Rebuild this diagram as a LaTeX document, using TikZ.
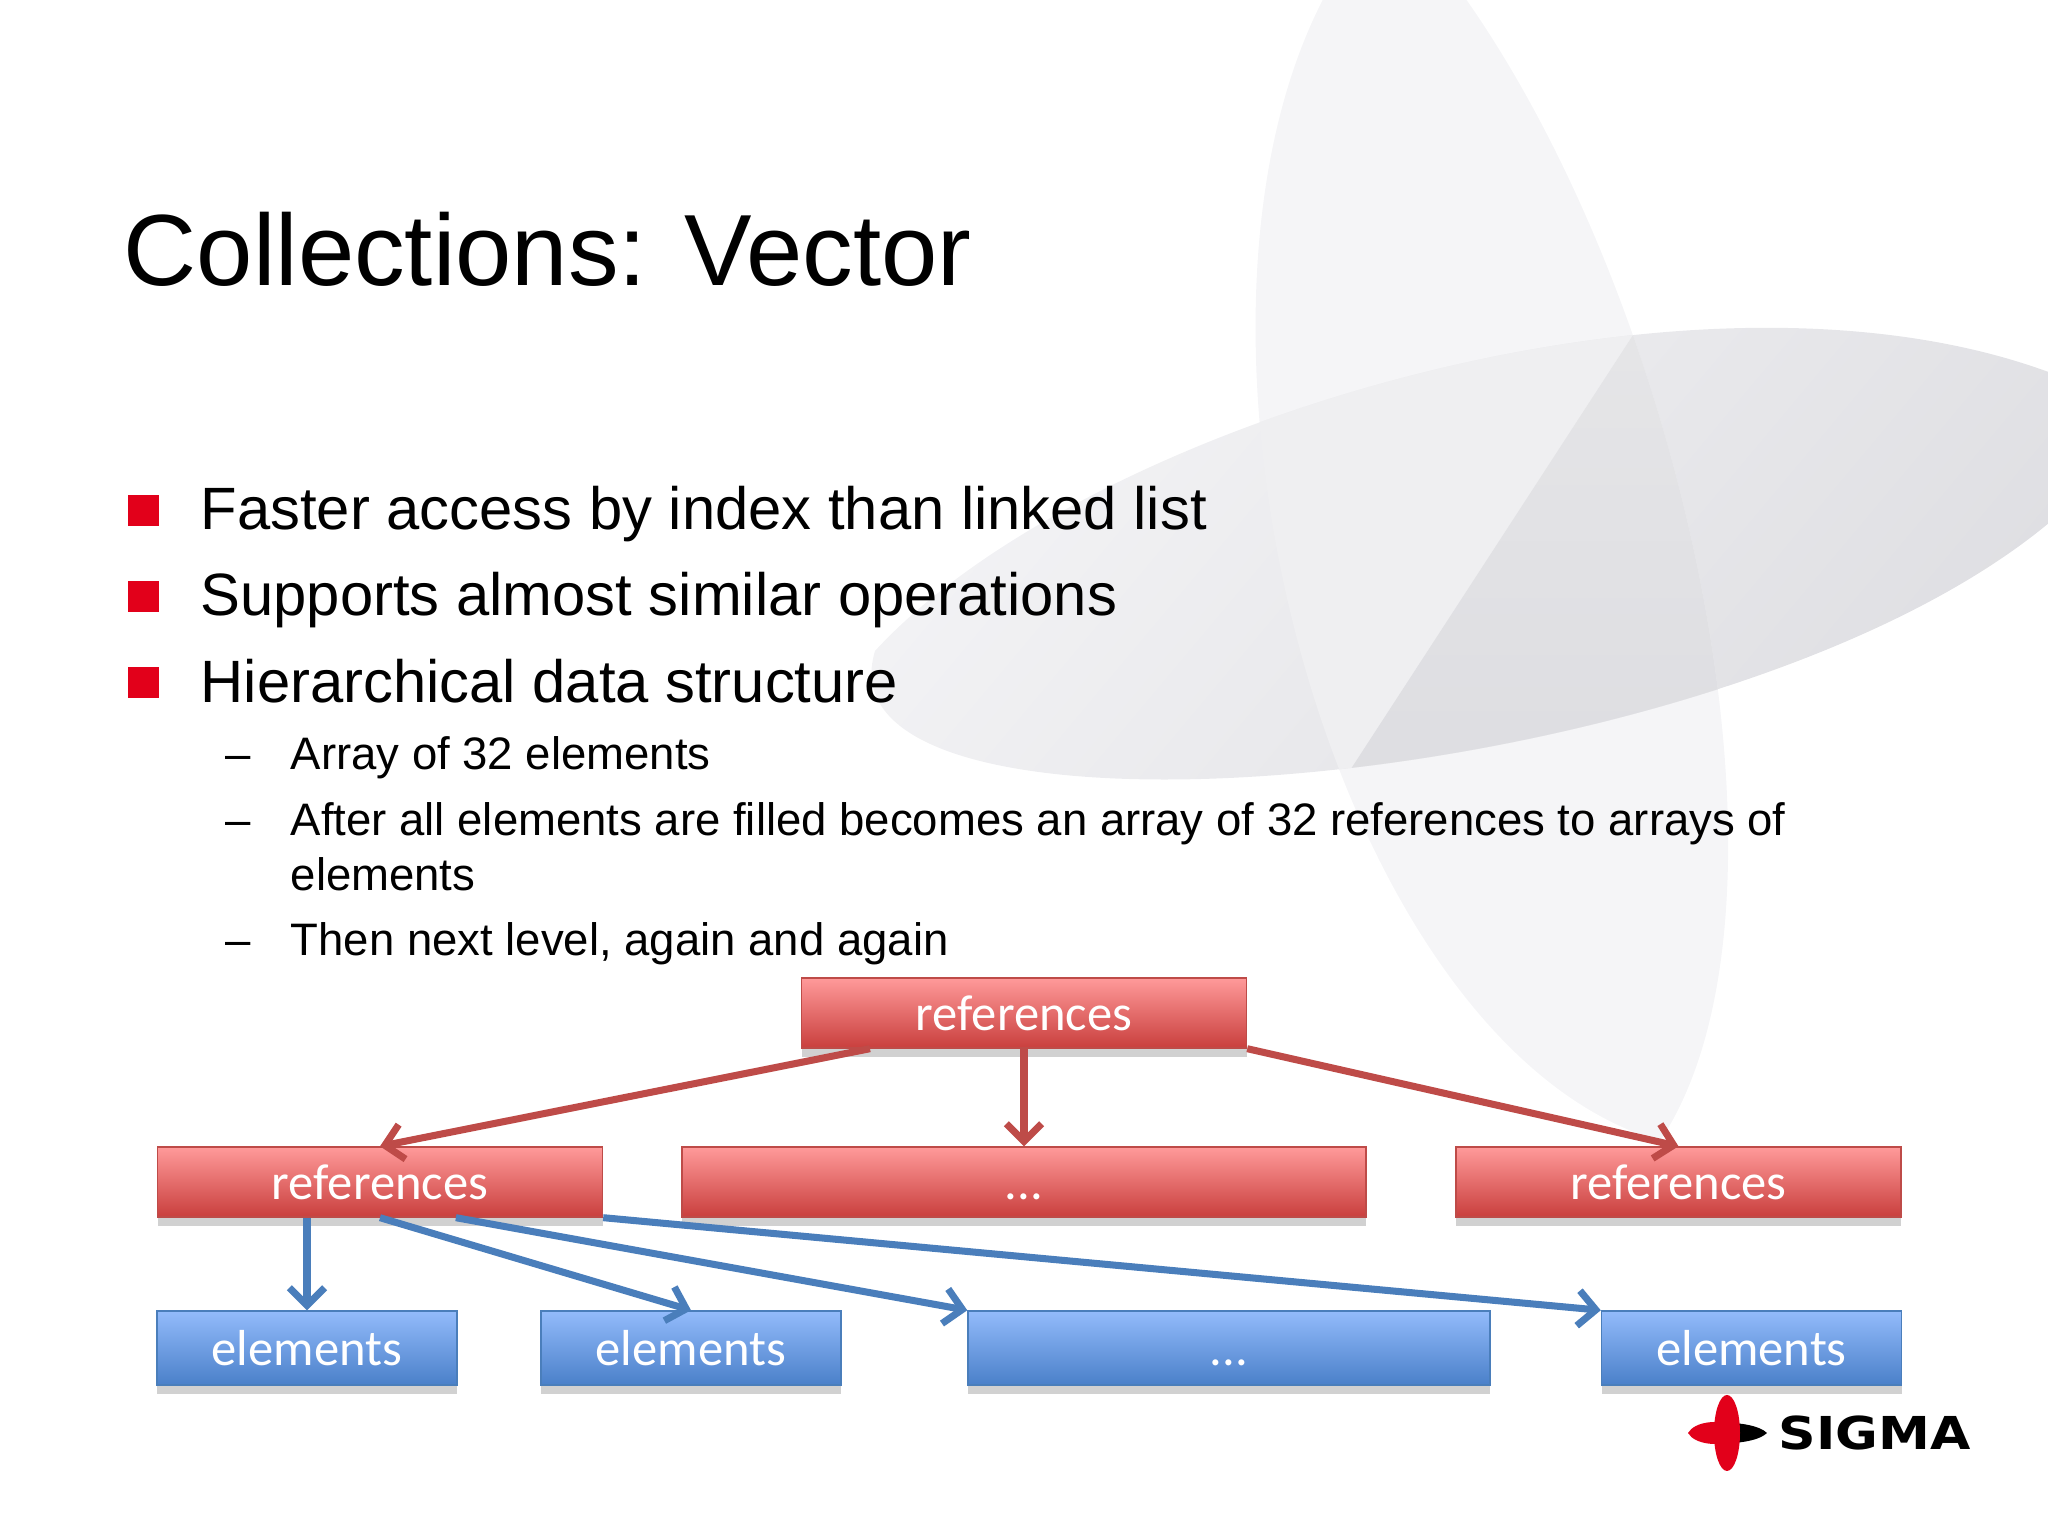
\documentclass[tikz,border=0pt]{standalone}
\usepackage{fontspec}
\setmainfont{Liberation Sans}
\newfontfamily\boxfont{Carlito}
\newfontfamily\logofont{DejaVu Sans}
\usetikzlibrary{calc,arrows.meta,shadows}
\definecolor{bulletred}{HTML}{E2001A}
\definecolor{refline}{HTML}{BE4B48}
\definecolor{reftop}{HTML}{FF9A9A}
\definecolor{refbottom}{HTML}{C93F3D}
\definecolor{elemline}{HTML}{4A7EBB}
\definecolor{elemtop}{HTML}{93BBFB}
\definecolor{elembottom}{HTML}{4A80C9}
\definecolor{petal}{HTML}{F5F5F7}
\definecolor{petalmid}{HTML}{EFEFF1}
\definecolor{petallow}{HTML}{E6E6E8}
\definecolor{petaldark}{HTML}{DDDDE1}
\newcommand{\petalv}{(13.9,16.3) .. controls (11.1,13.5) and (13,5) .. (16.6,3.95) .. controls (18.3,6.5) and (16.6,13.5) .. cycle}
\newcommand{\petalh}{(8.75,8.85) .. controls (11,11.3) and (18,13.3) .. (21.4,11.2) .. controls (19.5,7.6) and (8,6.4) .. cycle}
\tikzset{
  boxbase/.style={rectangle,inner sep=0pt,text=white,font=\boxfont\fontsize{14.4}{16}\selectfont,
    text height=10pt,text depth=0pt,
    drop shadow={shadow xshift=0pt,shadow yshift=-2.5pt,opacity=.3,fill=black!60}},
  refbox/.style={boxbase,draw=refline,top color=reftop,bottom color=refbottom,minimum height=.70cm},
  elembox/.style={boxbase,draw=elemline,top color=elemtop,bottom color=elembottom,minimum height=.74cm},
  refarrow/.style={draw=refline,line width=2pt,-{Straight Barb[length=5pt,width=10pt]}},
  elemarrow/.style={draw=elemline,line width=2pt,-{Straight Barb[length=5pt,width=10pt]}},
  main/.style={anchor=base west,inner sep=0pt,font=\fontsize{17}{20}\selectfont},
  sub/.style={anchor=base west,inner sep=0pt,font=\fontsize{12.95}{15}\selectfont},
  sq/.style={fill=bulletred,inner sep=0pt,minimum size=.31cm}
}
\begin{document}
\begin{tikzpicture}[>=stealth]
\useasboundingbox (0,0) rectangle (20.48,15.36);
\clip (0,0) rectangle (20.48,15.36);
% Hintergrund
\fill[petal] \petalv;
\shade[top color=petal,bottom color=petaldark,shading angle=50] \petalh;
\begin{scope}
\clip \petalv;
\clip \petalh;
\fill[petalmid] (12,7) rectangle (18,13);
\shade[top color=petallow,bottom color=petaldark] (13.47,7.61) -- (16.37,12.07) -- (18,12.5) -- (18,7.4) -- cycle;
\end{scope}
% Titel
\node[anchor=base west,inner sep=0pt,font=\fontsize{28.8}{32}\selectfont] (title) at (1.23,12.5) {Collections: Vector};
% Punkte
\node[sq] (sq1) at (1.435,10.25) {};
\node[sq] (sq2) at (1.435,9.39) {};
\node[sq] (sq3) at (1.435,8.53) {};
\node[main] (l1) at (2.0,10.06) {Faster access by index than linked list};
\node[main] (l2) at (2.0,9.20) {Supports almost similar operations};
\node[main] (l3) at (2.0,8.33) {Hierarchical data structure};
\foreach \y/\n in {7.66/d1,7.00/d2,5.80/d3}{\node[sub] (\n) at (2.25,\y) {–};}
\node[sub] (s1) at (2.9,7.66) {Array of 32 elements};
\node[sub] (s2) at (2.9,7.00) {After all elements are filled becomes an array of 32 references to arrays of};
\node[sub] (s3) at (2.9,6.45) {elements};
\node[sub] (s4) at (2.9,5.80) {Then next level, again and again};
% Referenzen
\node[refbox,minimum width=4.45cm] (rtop) at (10.24,5.23) {references};
\node[refbox,minimum width=4.45cm] (rleft) at (3.80,3.54) {references};
\node[refbox,minimum width=6.84cm] (rmid) at (10.24,3.54) {...};
\node[refbox,minimum width=4.45cm] (rright) at (16.785,3.54) {references};
% Elemente
\node[elembox,minimum width=3.0cm] (e1) at (3.07,1.88) {elements};
\node[elembox,minimum width=3.0cm] (e2) at (6.91,1.88) {elements};
\node[elembox,minimum width=5.22cm] (e3) at (12.29,1.88) {...};
\node[elembox,minimum width=3.0cm] (e4) at (17.515,1.88) {elements};
% Pfeile
\draw[refarrow] ($(rtop.south west)!.155!(rtop.south east)$) -- (rleft.north);
\draw[refarrow] (rtop.south) -- (rmid.north);
\draw[refarrow] (rtop.south east) -- (rright.north);
\draw[elemarrow] (e1.north|-rleft.south) -- (e1.north);
\draw[elemarrow] (rleft.south) -- (e2.north);
\draw[elemarrow] ($(rleft.south)!.34!(rleft.south east)$) -- (e3.north west);
\draw[elemarrow] (rleft.south east) -- (e4.north west);
% Logo
\fill[black] (17.2,1.13) .. controls (17.4,1.14) and (17.6,1.1) .. (17.67,1.03) .. controls (17.6,.96) and (17.4,.92) .. (17.2,.93) -- cycle;
\fill[bulletred] (17.27,1.03) ellipse[x radius=.13,y radius=.38];
\fill[bulletred] (16.88,1.03) .. controls (16.95,1.15) and (17.2,1.17) .. (17.36,1.1) -- (17.36,.96) .. controls (17.2,.89) and (16.95,.91) .. (16.88,1.03);
\node[anchor=west,inner sep=0pt,font=\logofont\bfseries\fontsize{12.9}{14}\selectfont,xscale=1.15,transform shape] (logo) at (17.78,1.03) {SIGMA};
\end{tikzpicture}
\end{document}
